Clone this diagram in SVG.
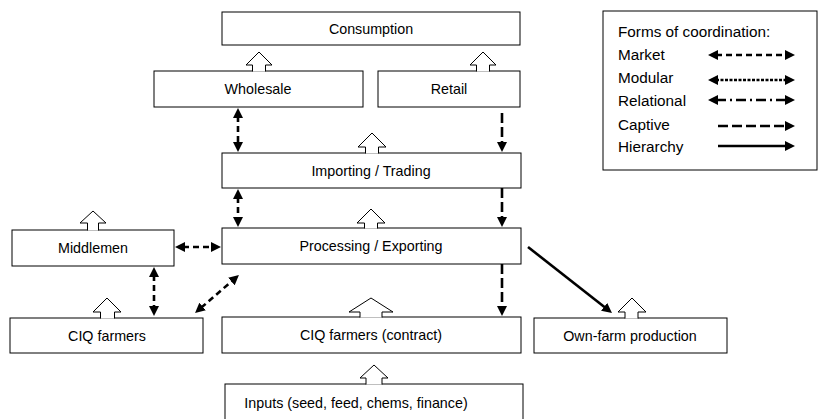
<svg xmlns="http://www.w3.org/2000/svg" width="818" height="419" viewBox="0 0 818 419">
<style>
.box{fill:#fff;stroke:#000;stroke-width:1}
.t{font-family:"Liberation Sans",Arial,sans-serif;font-size:14.3px;fill:#000;text-anchor:middle}
.lt{font-family:"Liberation Sans",Arial,sans-serif;font-size:15.3px;fill:#000}
.hol{fill:#fff;stroke:#000;stroke-width:1}
.c{fill:none;stroke:#000;stroke-width:2.6}
.market{stroke-dasharray:6 4}
.modular{stroke-dasharray:3 1.5}
.relational{stroke-dasharray:10 4 2 4}
.captive{stroke-dasharray:10 4}
</style>
<defs>
<marker id="ah" viewBox="0 0 10 10" refX="2" refY="5" markerWidth="10" markerHeight="11" markerUnits="userSpaceOnUse" orient="auto-start-reverse">
<path d="M0,0 L10,5 L0,10 z" fill="#000"/>
</marker>
</defs>
<rect x="0" y="0" width="818" height="419" fill="#fff"/>

<g id="consumption"><rect class="box" x="222" y="12" width="298" height="33"/><text class="t" x="371" y="34">Consumption</text></g>
<g id="wholesale"><rect class="box" x="154" y="71" width="209" height="36"/><text class="t" x="258" y="94">Wholesale</text></g>
<g id="retail"><rect class="box" x="378" y="71" width="142" height="36"/><text class="t" x="449" y="94">Retail</text></g>
<g id="importing"><rect class="box" x="222" y="153" width="299" height="35"/><text class="t" x="371" y="176">Importing / Trading</text></g>
<g id="processing"><rect class="box" x="222" y="228" width="299" height="36"/><text class="t" x="371" y="251">Processing / Exporting</text></g>
<g id="middlemen"><rect class="box" x="12" y="230" width="162" height="36"/><text class="t" x="93" y="253">Middlemen</text></g>
<g id="ciq-farmers"><rect class="box" x="10" y="318" width="193" height="35"/><text class="t" x="107" y="341">CIQ farmers</text></g>
<g id="ciq-contract"><rect class="box" x="222" y="317" width="299" height="36"/><text class="t" x="371" y="340">CIQ farmers (contract)</text></g>
<g id="own-farm"><rect class="box" x="534" y="318" width="193" height="35"/><text class="t" x="630" y="341">Own-farm production</text></g>
<g id="inputs"><rect class="box" x="225" y="384" width="298" height="40"/><text class="t" x="356" y="408">Inputs (seed, feed, chems, finance)</text></g>

<g id="flows">
<path class="hol" d="M252.5,71.5 V65 H246 L259,52 L272,65 H265.5 V71.5"/>
<path class="hol" d="M476.5,71.5 V65 H470 L483,52 L496,65 H489.5 V71.5"/>
<path class="hol" d="M365.5,153.5 V147 H358 L372,133 L386,147 H378.5 V153.5"/>
<path class="hol" d="M364.5,228.5 V223 H357 L371,209 L385,223 H377.5 V228.5"/>
<path class="hol" d="M87.5,230.5 V223 H80 L93,211 L106,223 H98.5 V230.5"/>
<path class="hol" d="M100.5,318.5 V312 H93 L107,298 L121,312 H114.5 V318.5"/>
<path class="hol" d="M360,317.5 V312 H349 L371,298 L393,312 H382 V317.5"/>
<path class="hol" d="M625,318.5 V312 H618 L632,298 L646,312 H638 V318.5"/>
<path class="hol" d="M366,384.5 V378 H360 L374,365 L388,378 H382 V384.5"/>
</g>

<g id="connectors">
<line class="c market" x1="238" y1="116" x2="238" y2="144" marker-start="url(#ah)" marker-end="url(#ah)"/>
<line class="c captive" x1="502" y1="113" x2="502" y2="144" marker-end="url(#ah)"/>
<line class="c market" x1="238" y1="197" x2="238" y2="219" marker-start="url(#ah)" marker-end="url(#ah)"/>
<line class="c captive" x1="502" y1="188" x2="502" y2="219" marker-end="url(#ah)"/>
<line class="c market" x1="183" y1="247" x2="213" y2="247" marker-start="url(#ah)" marker-end="url(#ah)"/>
<line class="c market" x1="154" y1="275" x2="154" y2="308" marker-start="url(#ah)" marker-end="url(#ah)"/>
<line class="c market" x1="201.1" y1="307.8" x2="232.9" y2="280.2" marker-start="url(#ah)" marker-end="url(#ah)"/>
<line class="c captive" x1="502" y1="264" x2="502" y2="308" marker-end="url(#ah)"/>
<line class="c" x1="528" y1="247" x2="605.7" y2="308.1" marker-end="url(#ah)"/>
</g>

<g id="legend">
<rect class="box" x="603" y="11" width="214" height="159"/>
<text class="lt" x="618" y="37">Forms of coordination:</text>
<text class="lt" x="618" y="60">Market</text>
<text class="lt" x="618" y="83">Modular</text>
<text class="lt" x="618" y="106">Relational</text>
<text class="lt" x="618" y="130">Captive</text>
<text class="lt" x="618" y="152">Hierarchy</text>
<line class="c market" x1="716" y1="55" x2="787" y2="55" marker-start="url(#ah)" marker-end="url(#ah)"/>
<line class="c modular" x1="716" y1="80" x2="787" y2="80" marker-start="url(#ah)" marker-end="url(#ah)"/>
<line class="c relational" x1="716" y1="100" x2="787" y2="100" marker-start="url(#ah)" marker-end="url(#ah)"/>
<line class="c captive" x1="718" y1="126" x2="787" y2="126" marker-end="url(#ah)"/>
<line class="c" x1="718" y1="146" x2="787" y2="146" marker-end="url(#ah)"/>
</g>
</svg>
